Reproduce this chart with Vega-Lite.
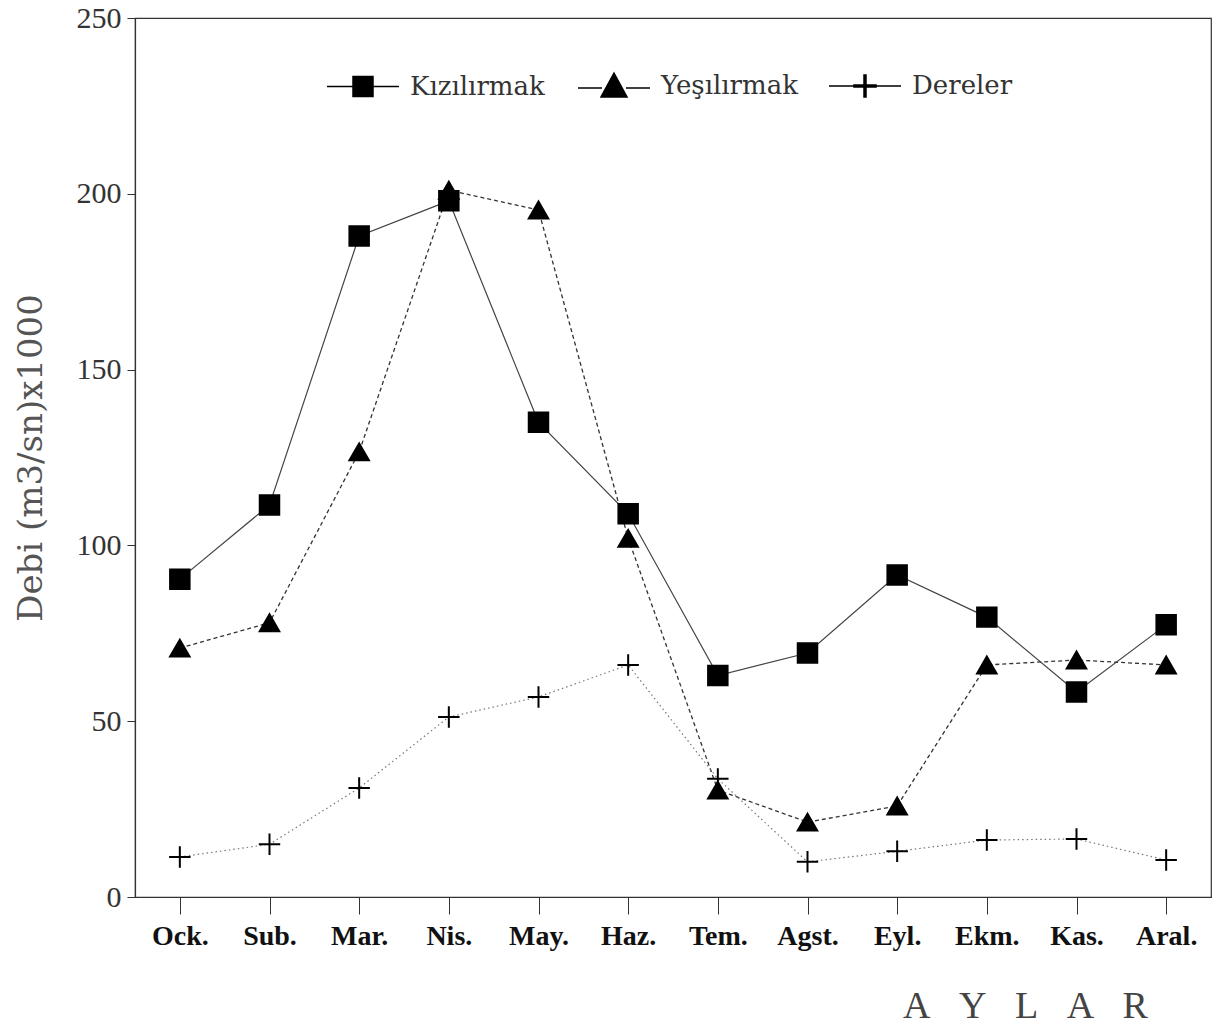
{
  "$schema": "https://vega.github.io/schema/vega-lite/v6.json",
  "autosize": {"type": "none"},
  "padding": {"left": 135, "top": 18, "right": 17, "bottom": 132},
  "width": 1076,
  "height": 879,
  "background": "white",
  "config": {
    "view": {"stroke": "#333", "strokeWidth": 1.2},
    "axis": {"grid": false}
  },
  "data": {
    "values": [
      {"ay": "Ock.", "seri": "Kızılırmak", "debi": 90.4},
      {"ay": "Sub.", "seri": "Kızılırmak", "debi": 111.5},
      {"ay": "Mar.", "seri": "Kızılırmak", "debi": 188},
      {"ay": "Nis.", "seri": "Kızılırmak", "debi": 198},
      {"ay": "May.", "seri": "Kızılırmak", "debi": 135},
      {"ay": "Haz.", "seri": "Kızılırmak", "debi": 109},
      {"ay": "Tem.", "seri": "Kızılırmak", "debi": 63},
      {"ay": "Agst.", "seri": "Kızılırmak", "debi": 69.4},
      {"ay": "Eyl.", "seri": "Kızılırmak", "debi": 91.6},
      {"ay": "Ekm.", "seri": "Kızılırmak", "debi": 79.6},
      {"ay": "Kas.", "seri": "Kızılırmak", "debi": 58.3},
      {"ay": "Aral.", "seri": "Kızılırmak", "debi": 77.4},
      {"ay": "Ock.", "seri": "Yeşılırmak", "debi": 70.8},
      {"ay": "Sub.", "seri": "Yeşılırmak", "debi": 78},
      {"ay": "Mar.", "seri": "Yeşılırmak", "debi": 126.6},
      {"ay": "Nis.", "seri": "Yeşılırmak", "debi": 201},
      {"ay": "May.", "seri": "Yeşılırmak", "debi": 195.4},
      {"ay": "Haz.", "seri": "Yeşılırmak", "debi": 102},
      {"ay": "Tem.", "seri": "Yeşılırmak", "debi": 30.4},
      {"ay": "Agst.", "seri": "Yeşılırmak", "debi": 21.3},
      {"ay": "Eyl.", "seri": "Yeşılırmak", "debi": 25.9},
      {"ay": "Ekm.", "seri": "Yeşılırmak", "debi": 66},
      {"ay": "Kas.", "seri": "Yeşılırmak", "debi": 67.4},
      {"ay": "Aral.", "seri": "Yeşılırmak", "debi": 66},
      {"ay": "Ock.", "seri": "Dereler", "debi": 11.4},
      {"ay": "Sub.", "seri": "Dereler", "debi": 15},
      {"ay": "Mar.", "seri": "Dereler", "debi": 31},
      {"ay": "Nis.", "seri": "Dereler", "debi": 51.2},
      {"ay": "May.", "seri": "Dereler", "debi": 56.9},
      {"ay": "Haz.", "seri": "Dereler", "debi": 66},
      {"ay": "Tem.", "seri": "Dereler", "debi": 33.6},
      {"ay": "Agst.", "seri": "Dereler", "debi": 10},
      {"ay": "Eyl.", "seri": "Dereler", "debi": 13},
      {"ay": "Ekm.", "seri": "Dereler", "debi": 16.2},
      {"ay": "Kas.", "seri": "Dereler", "debi": 16.5},
      {"ay": "Aral.", "seri": "Dereler", "debi": 10.5}
    ]
  },
  "encoding": {
    "x": {
      "field": "ay",
      "type": "nominal",
      "sort": ["Ock.", "Sub.", "Mar.", "Nis.", "May.", "Haz.", "Tem.", "Agst.", "Eyl.", "Ekm.", "Kas.", "Aral."],
      "scale": {"type": "point", "padding": 0.5},
      "axis": {
        "title": "A\u00a0\u00a0\u00a0Y\u00a0\u00a0\u00a0L\u00a0\u00a0\u00a0A\u00a0\u00a0\u00a0R",
        "titleFont": "Liberation Serif",
        "titleFontSize": 38,
        "titleFontWeight": "normal",
        "titleColor": "#444",
        "titleX": 890,
        "titleY": 120,
        "titleBaseline": "alphabetic",
        "labelAngle": 0,
        "labelFont": "Liberation Serif",
        "labelFontWeight": "bold",
        "labelFontSize": 28,
        "labelColor": "#111",
        "labelPadding": 8,
        "tickSize": 17,
        "tickColor": "#333",
        "domainColor": "#333",
        "domainWidth": 1.2
      }
    },
    "y": {
      "field": "debi",
      "type": "quantitative",
      "scale": {"domain": [0, 250], "nice": false},
      "axis": {
        "values": [0, 50, 100, 150, 200, 250],
        "title": "Debi (m3/sn)x1000",
        "titleFont": "DejaVu Serif",
        "titleFontSize": 34,
        "titleFontWeight": "normal",
        "titleColor": "#555",
        "titleX": -87,
        "labelFont": "Liberation Serif",
        "labelFontSize": 30,
        "labelColor": "#333",
        "labelPadding": 6,
        "tickSize": 8,
        "tickColor": "#333",
        "domainColor": "#333",
        "domainWidth": 1.2
      }
    }
  },
  "resolve": {"scale": {"shape": "independent"}},
  "layer": [
    {
      "transform": [{"filter": "datum.seri === 'Kızılırmak'"}],
      "mark": {"type": "line", "strokeWidth": 1.2, "color": "#444"}
    },
    {
      "transform": [{"filter": "datum.seri === 'Yeşılırmak'"}],
      "mark": {"type": "line", "strokeWidth": 1.3, "color": "#333", "strokeDash": [4, 3]}
    },
    {
      "transform": [{"filter": "datum.seri === 'Dereler'"}],
      "mark": {"type": "line", "strokeWidth": 1.2, "color": "#777", "strokeDash": [1.5, 3]}
    },
    {
      "mark": {"type": "point", "filled": true, "color": "black", "stroke": "black", "strokeWidth": 2, "opacity": 1, "size": 380},
      "encoding": {
        "shape": {
          "field": "seri",
          "type": "nominal",
          "scale": {
            "domain": ["Dereler", "Kızılırmak", "Yeşılırmak"],
            "range": ["M-1.1,0H1.1M0,-1.1V1.1", "square", "triangle-up"]
          },
          "legend": null
        }
      }
    },
    {
      "mark": {"type": "point", "filled": true, "color": "black", "stroke": "black", "strokeWidth": 1.5, "opacity": 0, "size": 400},
      "encoding": {
        "shape": {
          "field": "seri",
          "type": "nominal",
          "scale": {
            "domain": ["Kızılırmak", "Yeşılırmak", "Dereler"],
            "range": [
              "M-3.6,0H-1M1,0H3.6M-1,-1H1V1H-1Z",
              "M-3.6,0.2H-1.2M1.2,0.2H3.6M0,-1.3L1.3,1.1L-1.3,1.1Z",
              "M-3.6,0H-1.1M1.1,0H3.6M-1.1,-0.1H1.1V0.1H-1.1ZM-0.1,-1.1H0.1V1.1H-0.1Z"
            ]
          },
          "legend": {
            "title": null,
            "orient": "none",
            "direction": "horizontal",
            "legendX": 215,
            "legendY": 55,
            "padding": 0,
            "symbolSize": 400,
            "gridAlign": "all",
            "columnPadding": 28,
            "labelOffset": 34,
            "labelFont": "DejaVu Serif",
            "labelFontSize": 26,
            "labelColor": "#333",
            "labelLimit": 300,
            "encode": {
              "symbols": {
                "fill": {"value": "black"},
                "stroke": {"value": "#222"},
                "strokeWidth": {"value": 1.4},
                "opacity": {"value": 1}
              }
            }
          }
        }
      }
    }
  ]
}
